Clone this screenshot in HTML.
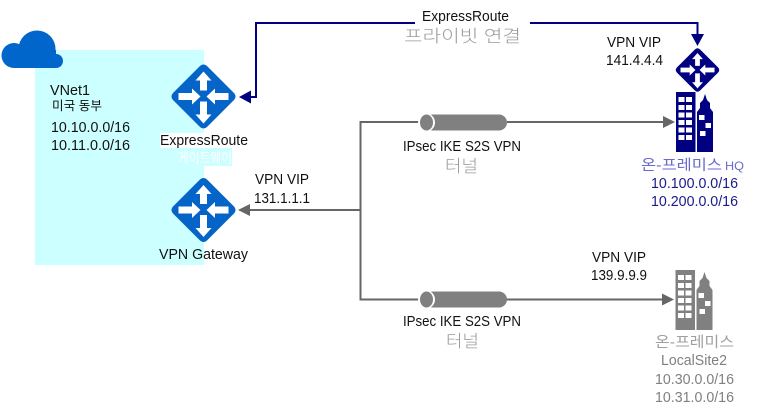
<!DOCTYPE html>
<html><head><meta charset="utf-8"><style>
html,body{margin:0;padding:0;background:#fff;width:758px;height:413px;overflow:hidden}
svg{display:block}
text{font-family:"Liberation Sans","Noto Sans CJK KR",sans-serif;font-size:14.5px;fill:#111}
.k{font-family:"Liberation Sans","Noto Sans CJK KR",sans-serif;font-size:17px;fill:#999;font-weight:300}
.g{fill:#808080}.n{fill:#1a1a8c}
</style></head><body>
<svg width="758" height="413" viewBox="0 0 758 413" xmlns="http://www.w3.org/2000/svg">
<defs>
<g id="ic">
<path d="M-4,-30 Q0,-34 4,-30 L30,-4 Q34,0 30,4 L4,30 Q0,34 -4,30 L-30,4 Q-34,0 -30,-4 Z"/>
<g fill="#fff">
<path d="M0,-25 L8,-16 L3.500,-16 L3.500,-6 L-3.500,-6 L-3.500,-16 L-8,-16 Z"/>
<path d="M0,27 L8,18 L3.500,18 L3.500,5 L-3.500,5 L-3.500,18 L-8,18 Z"/>
<path d="M-3,0 L-11.500,-8 L-11.500,-3.500 L-25,-3.500 L-25,3.500 L-11.500,3.500 L-11.500,8 Z"/>
<path d="M3,0 L11.500,-8 L11.500,-3.500 L25,-3.500 L25,3.500 L11.500,3.500 L11.500,8 Z"/>
</g>
</g>
<g id="bld">
<rect x="0" y="0" width="19.500" height="60"/>
<path d="M21,60 L21,20 L24,16 L24,11 L27,8 L29,2 L31,8 L34,11 L34,16 L37,20 L37,60 Z"/>
<g fill="#fff">
<rect x="2.500" y="5" width="6" height="5"/><rect x="10" y="5" width="6" height="5"/>
<rect x="2.500" y="13" width="6" height="5"/><rect x="10" y="13" width="6" height="5"/>
<rect x="2.500" y="20.500" width="6" height="5"/><rect x="10" y="20.500" width="6" height="5"/>
<rect x="2.500" y="28" width="6" height="5"/><rect x="10" y="28" width="6" height="5"/>
<rect x="2.500" y="35.500" width="6" height="5"/><rect x="10" y="35.500" width="6" height="5"/>
<rect x="2.500" y="43" width="6" height="5"/><rect x="10" y="43" width="6" height="5"/>
<rect x="23" y="23" width="5.500" height="5"/><rect x="29.500" y="31" width="5.500" height="5"/><rect x="24" y="39" width="5.500" height="5"/>
</g>
</g>
<g id="tube">
<rect x="5" y="-8" width="82" height="16" rx="8" fill="#808080"/>
<ellipse cx="6.500" cy="0" rx="8.500" ry="9" fill="#fff"/>
<ellipse cx="6.500" cy="0" rx="6.500" ry="8" fill="#808080"/>
</g>
</defs>

<rect x="35" y="50" width="169" height="215" fill="#CCFFFF"/>
<rect x="160" y="133" width="88" height="15" fill="#fff"/>
<rect x="178" y="148" width="54" height="18" fill="#CCFFFF"/>

<g fill="#0066CC">
<circle cx="37" cy="49" r="18.500"/><circle cx="14" cy="55.500" r="12.500"/><circle cx="56" cy="61" r="7"/>
<rect x="14" y="50" width="42" height="18"/>
</g>

<use href="#ic" x="203.500" y="96.500" fill="#0564C8"/>
<use href="#ic" x="203.500" y="210" fill="#0564C8"/>
<use href="#ic" transform="translate(697.500 70) scale(.68)" fill="#000080"/>
<use href="#bld" x="676" y="92" fill="#000080"/>
<use href="#bld" x="675.500" y="270" fill="#808080"/>

<g fill="none" stroke="#000080" stroke-width="2">
<path d="M415,23 L256,23 L256,97 L248,97"/>
<path d="M530,23 L697.500,23 L697.500,36"/>
</g>
<path d="M239,97 L251,90.500 L251,103.500 Z" fill="#000080"/>
<path d="M697.500,46 L691,34 L704,34 Z" fill="#000080"/>

<g fill="none" stroke="#666" stroke-width="2">
<path d="M420,122 L360.500,122 L360.500,299.500 L420,299.500"/>
<path d="M507,122 L664,122"/>
<path d="M507,299.500 L664,299.500"/>
<path d="M360,210 L248,210"/>
</g>
<g fill="#666">
<path d="M675,122 L663,116 L663,128 Z"/>
<path d="M674,299.500 L662,293.500 L662,305.500 Z"/>
<path d="M238,210 L250,204 L250,216 Z"/>
</g>
<use href="#tube" x="420" y="122.500"/>
<use href="#tube" x="420" y="299.500"/>

<text x="50" y="95" textLength="40" lengthAdjust="spacingAndGlyphs">VNet1</text>
<text x="52" y="110" textLength="50" lengthAdjust="spacingAndGlyphs" style="font-size:12.500px">미국 동부</text>
<text x="51" y="132" textLength="79" lengthAdjust="spacingAndGlyphs">10.10.0.0/16</text>
<text x="51" y="150" textLength="79" lengthAdjust="spacingAndGlyphs">10.11.0.0/16</text>
<text x="160" y="145" textLength="88" lengthAdjust="spacingAndGlyphs">ExpressRoute</text>
<text x="178" y="163" textLength="54" lengthAdjust="spacingAndGlyphs" style="fill:#fff;font-size:14px">게이트웨이</text>
<text x="159" y="259" textLength="89" lengthAdjust="spacingAndGlyphs">VPN Gateway</text>

<text x="422" y="21" textLength="87" lengthAdjust="spacingAndGlyphs">ExpressRoute</text>
<text class="k" x="404" y="42" textLength="117" lengthAdjust="spacingAndGlyphs">프라이빗 연결</text>
<text x="607" y="47" textLength="54" lengthAdjust="spacingAndGlyphs">VPN VIP</text>
<text x="606" y="65" textLength="57" lengthAdjust="spacingAndGlyphs">141.4.4.4</text>

<text x="403" y="151" textLength="118" lengthAdjust="spacingAndGlyphs">IPsec IKE S2S VPN</text>
<text class="k" x="445" y="172" textLength="33" lengthAdjust="spacingAndGlyphs">터널</text>
<text x="641" y="170" textLength="81" lengthAdjust="spacingAndGlyphs" style="fill:#6a6acc">온-프레미스</text>
<text x="725" y="170" textLength="19" lengthAdjust="spacingAndGlyphs" style="fill:#6a6acc;font-size:12px">HQ</text>
<text class="n" x="651" y="188" textLength="87" lengthAdjust="spacingAndGlyphs">10.100.0.0/16</text>
<text class="n" x="651" y="206" textLength="87" lengthAdjust="spacingAndGlyphs">10.200.0.0/16</text>

<text x="255" y="184" textLength="54" lengthAdjust="spacingAndGlyphs">VPN VIP</text>
<text x="254" y="203" textLength="56" lengthAdjust="spacingAndGlyphs">131.1.1.1</text>

<text x="592" y="262" textLength="54" lengthAdjust="spacingAndGlyphs">VPN VIP</text>
<text x="591" y="280" textLength="56" lengthAdjust="spacingAndGlyphs">139.9.9.9</text>

<text x="403" y="326" textLength="118" lengthAdjust="spacingAndGlyphs">IPsec IKE S2S VPN</text>
<text class="k" x="446" y="347" textLength="33" lengthAdjust="spacingAndGlyphs">터널</text>
<text class="g" x="655" y="347" textLength="79" lengthAdjust="spacingAndGlyphs" style="fill:#a0a0a0">온-프레미스</text>
<text class="g" x="661" y="365" textLength="66" lengthAdjust="spacingAndGlyphs">LocalSite2</text>
<text class="g" x="655" y="384" textLength="79" lengthAdjust="spacingAndGlyphs">10.30.0.0/16</text>
<text class="g" x="655" y="402" textLength="79" lengthAdjust="spacingAndGlyphs">10.31.0.0/16</text>
</svg>
</body></html>
